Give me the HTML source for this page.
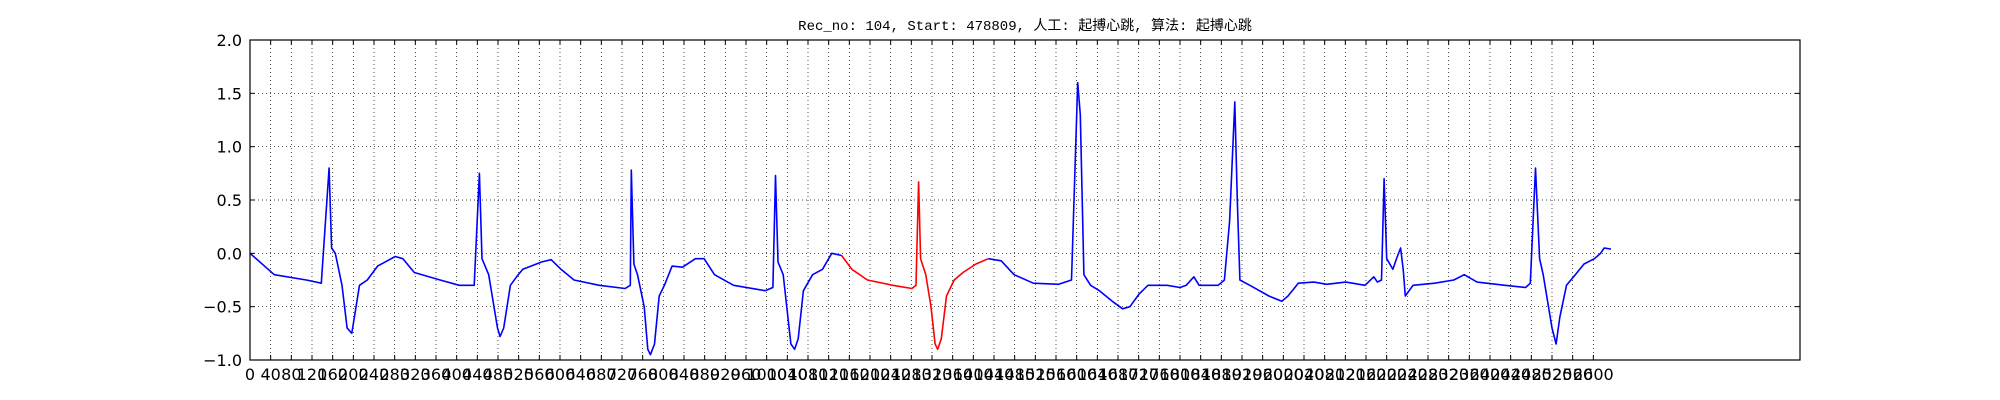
<!DOCTYPE html>
<html><head><meta charset="utf-8"><style>
html,body{margin:0;padding:0;background:#fff;}
svg{display:block;}
text{font-family:"DejaVu Sans","Liberation Sans",sans-serif;font-size:16px;fill:#000;}
</style></head><body>
<svg id="chart" width="2000" height="400" xmlns="http://www.w3.org/2000/svg">
<rect width="2000" height="400" fill="#fff"/>
<text x="1025" y="30" text-anchor="middle" style="font-family:'Liberation Mono','Noto Sans CJK SC',monospace;font-size:14px;">Rec_no: 104, Start: 478809, 人工: 起搏心跳, 算法: 起搏心跳</text>
<g id="grid"></g><g id="series"></g><g id="axes"></g>
</svg>
<script>
const sampleIdx=[0,47,109,138,153,158,165,178,188,197,212,227,247,281,296,318,368,405,434,444,449,462,479,484,491,504,516,528,565,583,602,627,676,726,736,738,743,750,763,770,775,783,792,802,817,837,862,879,899,936,997,1012,1017,1022,1032,1047,1054,1061,1071,1089,1108,1126,1145,1165,1195,1244,1281,1289,1294,1298,1308,1318,1326,1331,1338,1348,1363,1380,1405,1429,1454,1479,1516,1565,1590,1602,1607,1614,1627,1644,1669,1689,1703,1721,1738,1775,1800,1812,1827,1837,1874,1886,1896,1906,1911,1916,1935,1972,1997,2009,2029,2059,2084,2121,2158,2175,2182,2190,2195,2200,2212,2219,2227,2232,2236,2251,2293,2330,2350,2375,2429,2469,2478,2488,2496,2503,2520,2528,2535,2548,2565,2582,2602,2614,2621,2634];
const amplitude=[0.0,-0.2,-0.25,-0.28,0.8,0.05,0.0,-0.3,-0.7,-0.75,-0.3,-0.25,-0.12,-0.03,-0.05,-0.18,-0.25,-0.3,-0.3,0.75,-0.05,-0.2,-0.7,-0.78,-0.7,-0.3,-0.22,-0.15,-0.08,-0.06,-0.15,-0.25,-0.3,-0.33,-0.3,0.78,-0.1,-0.2,-0.5,-0.9,-0.95,-0.85,-0.4,-0.3,-0.12,-0.13,-0.05,-0.05,-0.2,-0.3,-0.35,-0.32,0.73,-0.08,-0.2,-0.85,-0.9,-0.8,-0.35,-0.2,-0.15,0.0,-0.02,-0.15,-0.25,-0.3,-0.33,-0.3,0.67,-0.05,-0.2,-0.5,-0.85,-0.9,-0.8,-0.4,-0.25,-0.18,-0.1,-0.05,-0.07,-0.2,-0.28,-0.29,-0.25,1.6,1.3,-0.2,-0.3,-0.35,-0.45,-0.52,-0.5,-0.38,-0.3,-0.3,-0.32,-0.3,-0.22,-0.3,-0.3,-0.25,0.3,1.42,0.5,-0.25,-0.3,-0.4,-0.45,-0.4,-0.28,-0.27,-0.29,-0.27,-0.3,-0.22,-0.27,-0.25,0.7,-0.05,-0.15,-0.05,0.05,-0.15,-0.4,-0.3,-0.28,-0.25,-0.2,-0.27,-0.3,-0.32,-0.28,0.8,-0.05,-0.2,-0.7,-0.85,-0.6,-0.3,-0.2,-0.1,-0.05,0.0,0.05,0.04];
const highlightRange=[1145,1429];
const xTicks=[];for(let v=0;v<=2600;v+=40)xTicks.push(v);
const yTicks=[-1.0,-0.5,0.0,0.5,1.0,1.5,2.0];
const yTickLabels=["\u22121.0","\u22120.5","0.0","0.5","1.0","1.5","2.0"];
const X0=250,X1=1800,Y0=40,Y1=360,XMAX=3000,YMIN=-1,YMAX=2;
const sx=v=>X0+(v/XMAX)*(X1-X0);
const sy=v=>Y1-(v-YMIN)/(YMAX-YMIN)*(Y1-Y0);
const NS="http://www.w3.org/2000/svg";
function mk(tag,parent){const e=document.createElementNS(NS,tag);parent.appendChild(e);return e;}
const grid=document.getElementById('grid'),series=document.getElementById('series'),axes=document.getElementById('axes');
xTicks.forEach(v=>{
  const l=mk('line',grid);
  
  
  l.setAttribute('x1',sx(v));l.setAttribute('x2',sx(v));l.setAttribute('y1',Y0);l.setAttribute('y2',Y1);
  l.setAttribute('stroke','#000');l.setAttribute('stroke-width','0.7');l.setAttribute('stroke-dasharray','1,3');
  const t1=mk('line',axes);
  
  
  t1.setAttribute('x1',sx(v));t1.setAttribute('x2',sx(v));t1.setAttribute('y1',Y1);t1.setAttribute('y2',Y1-5);t1.setAttribute('stroke','#000');
  const t2=mk('line',axes);
  
  
  t2.setAttribute('x1',sx(v));t2.setAttribute('x2',sx(v));t2.setAttribute('y1',Y0);t2.setAttribute('y2',Y0+5);t2.setAttribute('stroke','#000');
  const tx=mk('text',axes);
  
  
  tx.setAttribute('x',sx(v));tx.setAttribute('y',Y1+20);tx.setAttribute('text-anchor','middle');tx.textContent=String(v);
});
yTicks.forEach((v,i)=>{
  const l=mk('line',grid);
  
  
  l.setAttribute('x1',X0);l.setAttribute('x2',X1);l.setAttribute('y1',sy(v));l.setAttribute('y2',sy(v));
  l.setAttribute('stroke','#000');l.setAttribute('stroke-width','0.7');l.setAttribute('stroke-dasharray','1,3');
  const t1=mk('line',axes);
  
  
  t1.setAttribute('x1',X0);t1.setAttribute('x2',X0+5);t1.setAttribute('y1',sy(v));t1.setAttribute('y2',sy(v));t1.setAttribute('stroke','#000');
  const t2=mk('line',axes);
  
  
  t2.setAttribute('x1',X1-5);t2.setAttribute('x2',X1);t2.setAttribute('y1',sy(v));t2.setAttribute('y2',sy(v));t2.setAttribute('stroke','#000');
  const tx=mk('text',axes);
  
  
  tx.setAttribute('x',X0-8);tx.setAttribute('y',sy(v)+6);tx.setAttribute('text-anchor','end');tx.textContent=yTickLabels[i];
});
function seg(filter,color,name){
  const pts=[];
  sampleIdx.forEach((s,i)=>{if(filter(s))pts.push(sx(s).toFixed(1)+','+sy(amplitude[i]).toFixed(1));});
  const p=mk('polyline',series);
  
  
  p.setAttribute('points',pts.join(' '));p.setAttribute('fill','none');p.setAttribute('stroke',color);
  p.setAttribute('stroke-width','1.6');p.setAttribute('stroke-linejoin','round');
}
seg(s=>s<=highlightRange[0],'#0000ff','ecg-line-before');
seg(s=>s>=highlightRange[0]&&s<=highlightRange[1],'#ff0000','ecg-line-highlight');
seg(s=>s>=highlightRange[1],'#0000ff','ecg-line-after');
const fr=mk('rect',axes);


fr.setAttribute('x',X0);fr.setAttribute('y',Y0);fr.setAttribute('width',X1-X0);fr.setAttribute('height',Y1-Y0);
fr.setAttribute('fill','none');fr.setAttribute('stroke','#000');fr.setAttribute('stroke-width','1.2');
</script>
</body></html>
